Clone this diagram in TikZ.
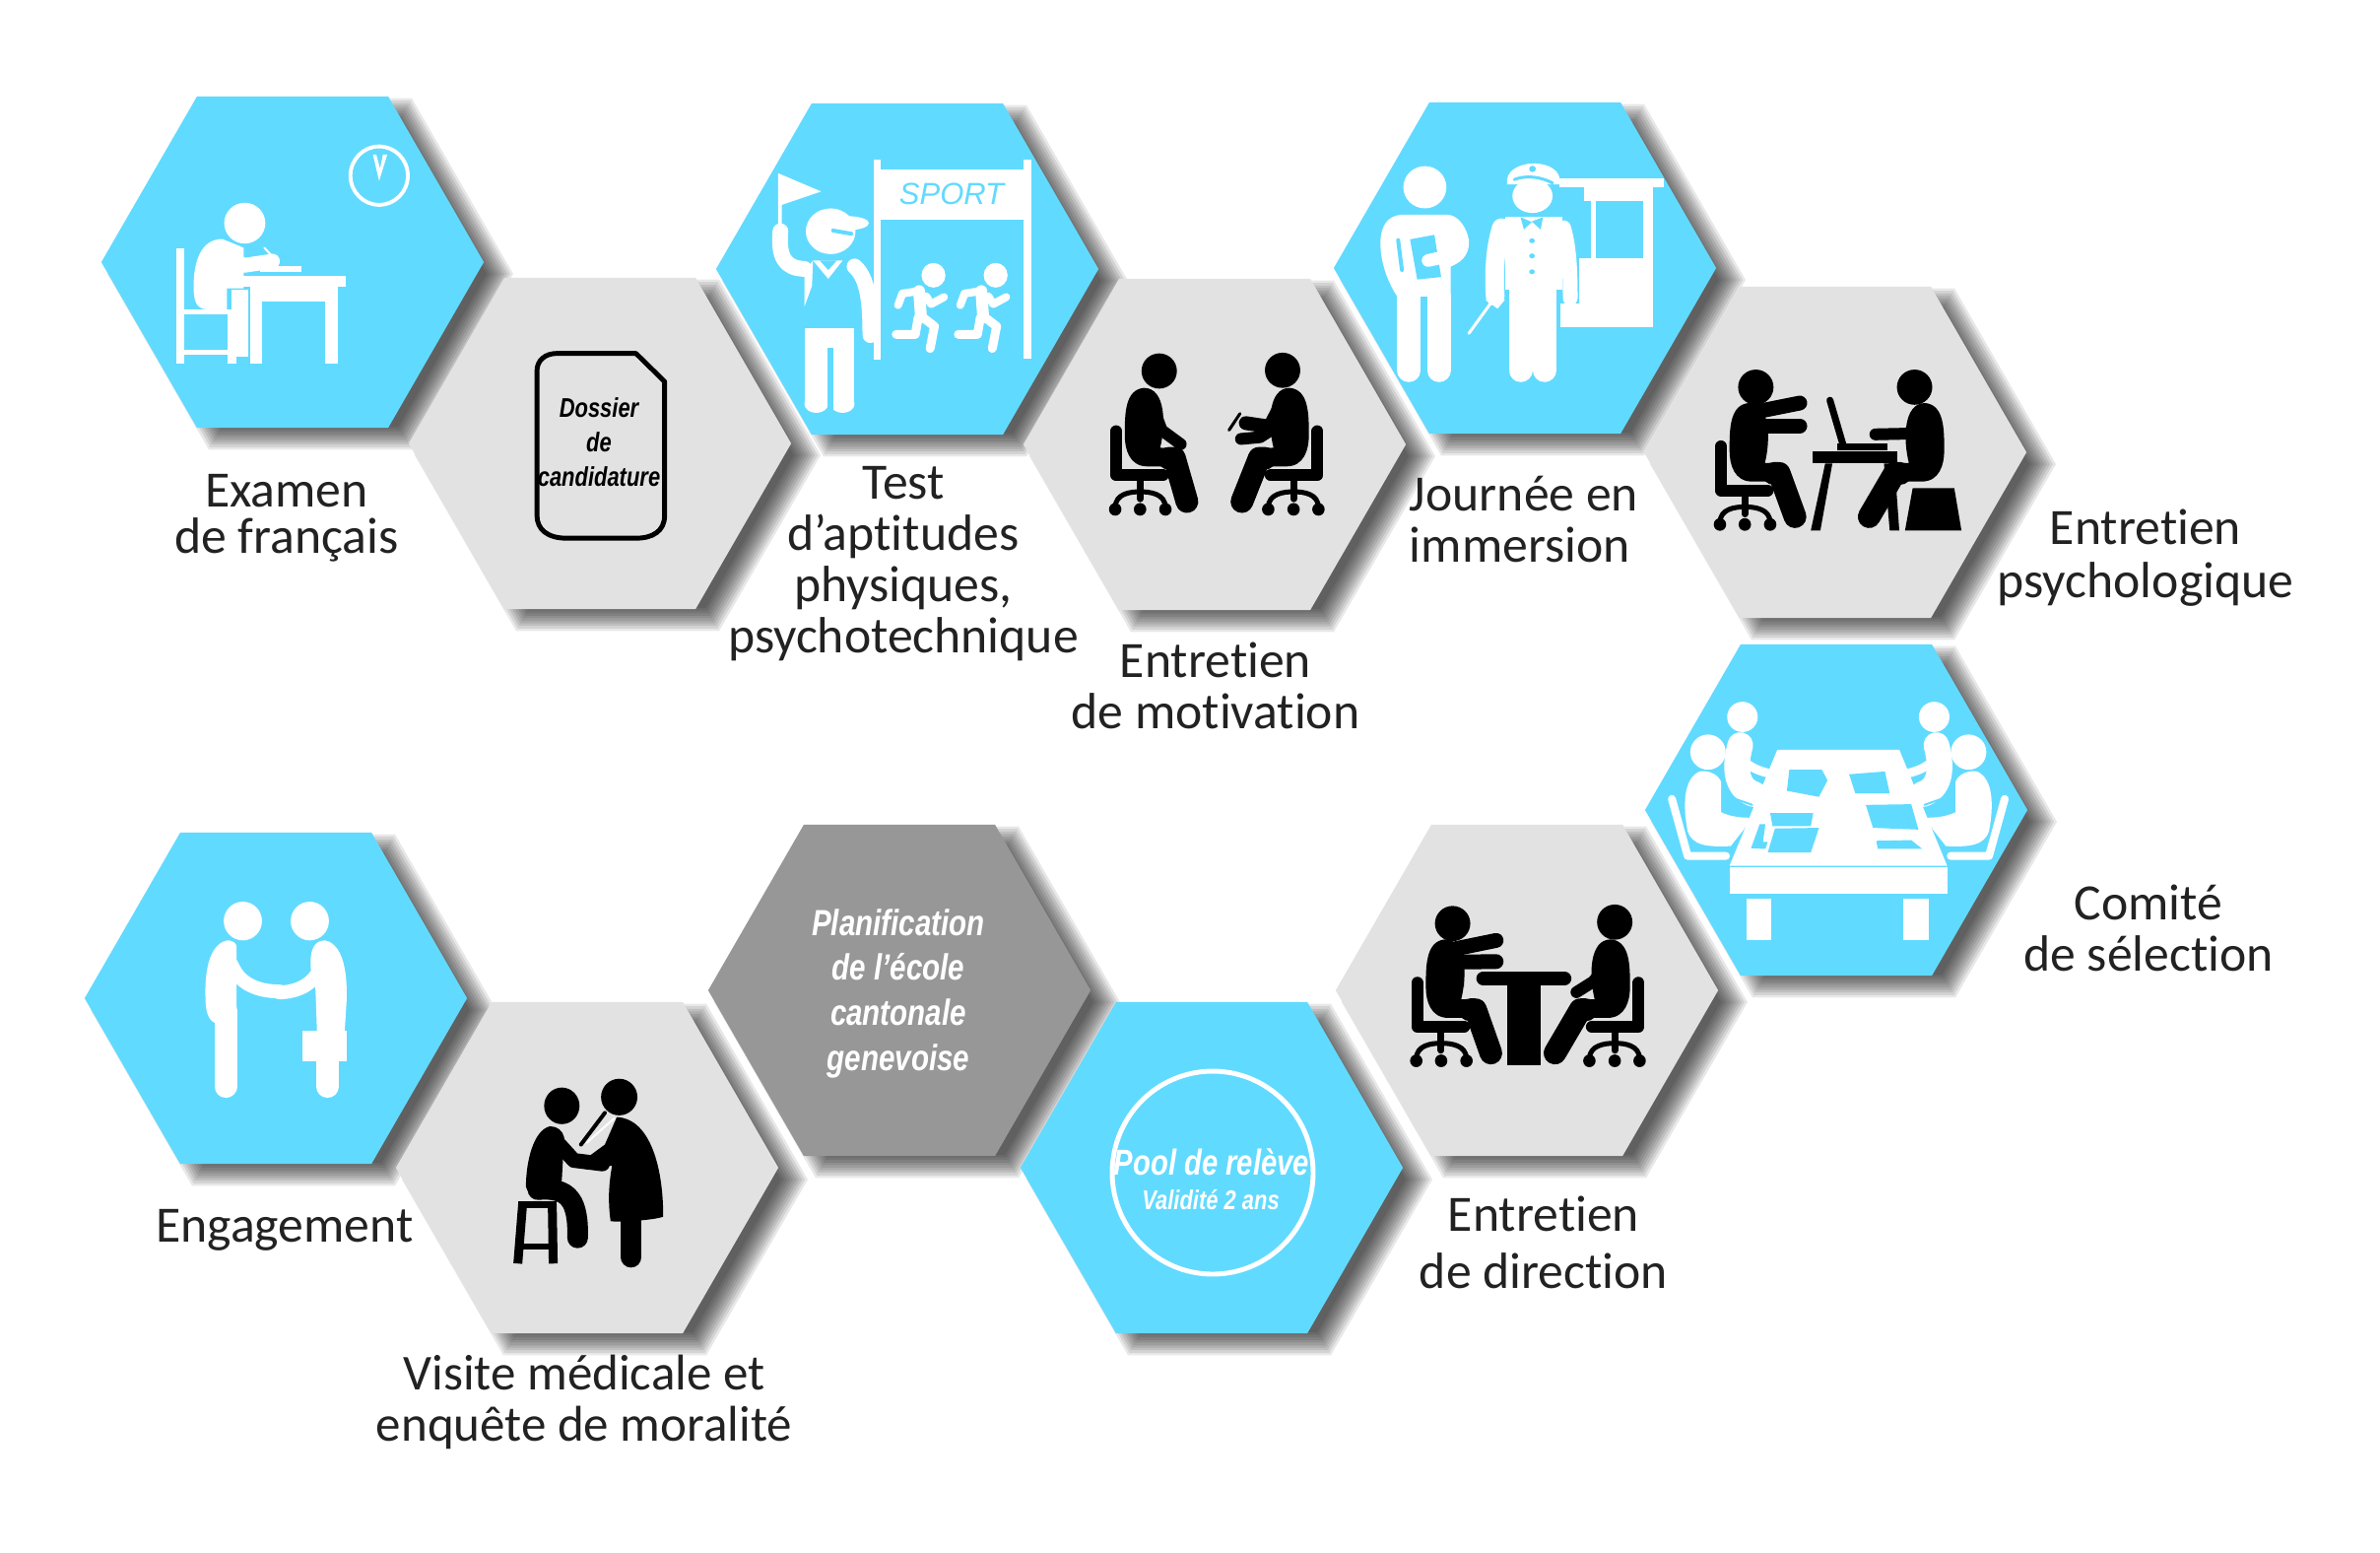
\documentclass[tikz,border=0pt]{standalone}
\usepackage{fontspec}
\setmainfont{Carlito}[Ligatures=NoCommon]
\newfontfamily\hexfont[FakeStretch=0.8]{Liberation Sans}
\newfontfamily\sportfont{Liberation Sans}
\usetikzlibrary{shapes.geometric}
\definecolor{hexblue}{HTML}{61DAFF}
\definecolor{hexlight}{HTML}{E2E2E2}
\definecolor{hexdark}{HTML}{979797}
\definecolor{labelink}{HTML}{222222}
\tikzset{
  hexcell/.style={regular polygon,regular polygon sides=6,minimum size=3.88cm,inner sep=0pt,outer sep=0pt,fill=#1},
  shadelayer/.style={fill=black,opacity=0.09},
  crop/.style={x=0.004847cm,y=-0.003571cm},
  limb/.style={line width=#1*0.2845pt,line cap=round,line join=round},
  steplabel/.style={font=\fontsize{14.7}{14.8}\selectfont,text=labelink,align=center,inner sep=0pt},
  hextext/.style={font=\hexfont\bfseries\itshape\fontsize{#1}{13}\selectfont,align=center,inner sep=0pt}
}
% chair and seated figure, origin at the middle wheel
\newcommand{\officechair}{
  \draw[limb=12] (-50,-222) -- (-50,-97) -- (48,-97);
  \draw[limb=7] (0,-90) -- (0,-30);
  \draw[limb=5] (-52,-5) .. controls (-52,-45) and (-20,-50) .. (0,-50) .. controls (20,-50) and (53,-45) .. (53,-5);
  \foreach \W in {-52,0,53} {\fill (\W,0) ellipse [x radius=13,y radius=18];}
}
\newcommand{\seatedbody}[1]{
  \fill (8,-345) .. controls (-32,-340) and (-32,-270) .. (-32,-210) .. controls (-32,-170) and (-22,-122) .. (15,-122) -- (80,-122) -- (80,-172) -- (42,-175) .. controls (54,-240) and (54,-345) .. (8,-345) -- cycle;
  \draw[limb=23] (60,-145) -- (72,-145) -- (#1,-22);
}
\begin{document}
\begin{tikzpicture}[x=0.01cm,y=-0.01cm]
\useasboundingbox (0,0) rectangle (2416,1575);
\fill[white] (0,0) rectangle (2416,1575);

\foreach \hx/\hy/\hname/\hcol in {297/266/Examen/hexblue,609/450/Dossier/hexlight,921/273/Test/hexblue,1233/451/Motivation/hexlight,1548/272/Immersion/hexblue,1863/459/Psycho/hexlight,
  280/1013/Engagement/hexblue,596/1185/Visite/hexlight,913/1005/Planif/hexdark,1230/1185/Pool/hexblue,1550/1005/Direction/hexlight,1864/822/Comite/hexblue} {
  \foreach \r in {206,203,...,178} {
    \fill[shadelayer] (\hx+18+\r,\hy+12) -- ++(120:\r) -- ++(180:\r) -- ++(240:\r) -- ++(300:\r) -- ++(0:\r) -- cycle;
  }
  \node[hexcell=\hcol] (hex\hname) at (\hx,\hy) {};
}

% Examen de francais
\begin{scope}[shift={(80,80)},crop,color=white]
  \fill (347,410) ellipse [x radius=43,y radius=58];
  \fill (203,482) rectangle (220,810);
  \fill (203,655) rectangle (330,670);
  \fill (203,770) rectangle (330,785);
  \fill (312,660) rectangle (330,810);
  \fill (300,455) .. controls (255,455) and (240,520) .. (240,590) .. controls (240,630) and (245,655) .. (270,655) -- (310,655) -- (310,595) -- (345,595) -- (345,480) -- cycle;
  \fill (320,600) rectangle (355,790);
  \draw[limb=15] (290,490) -- (345,530) -- (405,518);
  \draw[limb=2] (388,480) -- (412,515);
  \fill (378,532) rectangle (465,550);
  \fill (338,560) rectangle (558,592);
  \fill (358,592) rectangle (541,632);
  \fill (358,632) rectangle (384,810);
  \fill (515,632) rectangle (541,810);
  \draw[line width=1.1pt] (628,275) ellipse [x radius=60,y radius=83];
  \fill (615,215) -- (628,290) -- (645,215) -- (636,215) -- (630,255) -- (622,215) -- cycle;
\end{scope}

% Dossier
\begin{scope}[shift={(80,80)},crop]
  \draw[black,line width=1.4pt,line join=round] (1000,780) -- (1165,780) -- (1225,860) -- (1225,1240) .. controls (1225,1285) and (1200,1305) .. (1165,1305) -- (1020,1305) .. controls (980,1305) and (958,1280) .. (958,1240) -- (958,830) .. controls (958,800) and (975,780) .. (1000,780) -- cycle;
\end{scope}
\node[hextext=7.8,black] (txtDossier) at (608,449) {Dossier\\[-3.1pt]de\\[-3.1pt]candidature};

% Test
\begin{scope}[shift={(700,90)},crop,color=white]
  \fill (185,240) -- (275,292) -- (193,330) -- (193,400) -- (185,400) -- cycle;
  \fill (295,405) ellipse [x radius=52,y radius=65];
  \fill (330,382) ellipse [x radius=45,y radius=20];
  \draw[hexblue,limb=4] (300,403) -- (338,412);
  \draw[limb=16] (190,405) .. controls (185,480) and (200,510) .. (240,512);
  \fill (258,488) -- (320,488) -- (290,540) -- cycle;
  \fill[hexblue] (272,488) -- (308,488) -- (290,515) -- cycle;
  \fill (240,520) -- (258,488) -- (256,560) -- (240,620) -- cycle;
  \draw[limb=16] (345,505) .. controls (375,540) and (378,620) .. (378,700);
  \fill (240,680) rectangle (345,895);
  \fill (265,895) ellipse [x radius=25,y radius=26];
  \fill (320,895) ellipse [x radius=25,y radius=26];
  \fill[hexblue] (288,735) rectangle (300,925);
  \fill (386,202) rectangle (400,770);
  \fill (698,202) rectangle (714,766);
  \fill (400,230) rectangle (698,372);
  \foreach \R in {0,130} {
    \fill (510+\R,530) ellipse [x radius=25,y radius=35];
    \draw[limb=12] (480+\R,575) -- (484+\R,650);
    \draw[limb=8] (478+\R,575) -- (445+\R,582) -- (436+\R,615);
    \draw[limb=8] (495+\R,590) -- (505+\R,612) -- (532+\R,592);
    \draw[limb=9] (478+\R,650) -- (472+\R,698) -- (432+\R,698);
    \draw[limb=9] (488+\R,650) -- (512+\R,675) -- (503+\R,738);
  }
\end{scope}
\node[font=\sportfont\itshape\fontsize{8.8}{10}\selectfont,text=hexblue,inner sep=0pt] (txtSport) at (966,197) {SPORT};

% Entretien de motivation
\begin{scope}[shift={(700,90)},crop,color=black]
  \begin{scope}[shift={(942,1195)}]
    \officechair
    \seatedbody{98}
    \fill (40,-393) ellipse [x radius=37,y radius=50];
    \draw[limb=12] (25,-300) -- (45,-225) -- (85,-185);
  \end{scope}
  \begin{scope}[shift={(1263,1195)},xscale=-1]
    \officechair
    \seatedbody{108}
    \fill (23,-395) ellipse [x radius=37,y radius=50];
    \draw[limb=14] (25,-300) -- (50,-235) -- (100,-245);
    \draw[limb=12] (30,-240) -- (70,-205) -- (110,-200);
    \draw[limb=3] (112,-272) -- (135,-225);
  \end{scope}
\end{scope}

% Journee en immersion
\begin{scope}[shift={(1360,90)},crop,color=white]
  \fill (178,280) ellipse [x radius=45,y radius=60];
  \fill (130,358) .. controls (100,360) and (85,390) .. (85,440) .. controls (85,500) and (105,560) .. (120,590) -- (232,590) -- (232,505) .. controls (262,490) and (272,460) .. (270,430) .. controls (265,390) and (245,358) .. (225,358) -- cycle;
  \draw[limb=24] (145,590) -- (145,800);
  \draw[limb=24] (207,590) -- (207,800);
  \fill[hexblue] (147,428) -- (198,415) -- (212,535) -- (162,542) -- cycle;
  \draw[hexblue,limb=4] (122,430) -- (130,515);
  \draw[limb=13] (185,488) -- (245,470);
  \fill (350,272) .. controls (340,195) and (470,190) .. (460,272) -- cycle;
  \fill (403,305) ellipse [x radius=42,y radius=48];
  \draw[hexblue,limb=3] (365,258) .. controls (390,245) and (420,250) .. (445,268);
  \fill[hexblue] (403,228) ellipse [x radius=7,y radius=9];
  \draw[limb=19] (338,395) .. controls (325,450) and (322,520) .. (325,590);
  \draw[limb=15] (468,395) .. controls (480,450) and (482,520) .. (482,595);
  \fill (345,365) rectangle (465,570);
  \draw[limb=24] (378,570) -- (378,800);
  \draw[limb=24] (428,570) -- (428,800);
  \fill[hexblue] (378,365) -- (400,378) -- (425,365) -- (420,400) -- (402,378) -- (385,400) -- cycle;
  \foreach \B in {432,475,520} {\fill[hexblue] (402,\B) ellipse [x radius=6,y radius=7];}
  \fill (305,600) -- (320,580) -- (345,600) -- (330,625) -- cycle;
  \draw[limb=3] (270,695) -- (318,605);
  \fill (460,255) rectangle (678,280);
  \fill (510,280) rectangle (655,320);
  \fill (525,320) rectangle (535,482);
  \fill (635,320) rectangle (655,482);
  \fill (500,482) rectangle (655,678);
  \fill (462,610) rectangle (500,678);
\end{scope}

% Entretien psychologique
\begin{scope}[shift={(1360,90)},crop,color=black]
  \begin{scope}[shift={(847,1238)}]
    \officechair
    \seatedbody{105}
    \fill (23,-390) ellipse [x radius=37,y radius=50];
    \draw[limb=15] (5,-315) -- (115,-345);
    \draw[limb=15] (5,-280) -- (115,-280);
    \fill (35,-280) -- (50,-280) -- (45,-210) -- cycle;
  \end{scope}
  \begin{scope}[shift={(1232,1238)},xscale=-1]
    \seatedbody{125}
    \fill (30,-390) ellipse [x radius=37,y radius=50];
    \draw[limb=12] (5,-300) -- (45,-258) -- (112,-256);
  \end{scope}
  \draw[limb=7] (1025,885) -- (1052,1010);
  \fill (1040,1008) rectangle (1145,1028);
  \fill (988,1030) rectangle (1165,1065);
  \fill (1015,1065) -- (1030,1065) -- (1005,1255) -- (985,1255) -- cycle;
  \fill (1138,1065) -- (1160,1065) -- (1170,1255) -- (1150,1255) -- cycle;
  \fill (1198,1135) -- (1285,1135) -- (1300,1255) -- (1182,1255) -- cycle;
\end{scope}

% Comite de selection
\begin{scope}[shift={(1360,640)},crop,color=white]
  \foreach \S in {1,-1} {
    \begin{scope}[shift={(1042.5,0)},xscale=\S]
      \fill (-200.5,245) ellipse [x radius=32,y radius=43];
      \fill (-272.5,345) ellipse [x radius=37,y radius=50];
      \draw[limb=26] (-205,325) .. controls (-220,400) and (-210,450) .. (-175,465);
      \draw[limb=9] (-212,340) .. controls (-205,370) and (-180,395) .. (-145,405);
      \draw[hexblue,limb=2] (-247,385) .. controls (-242,430) and (-238,460) .. (-232,470) -- (-180,495);
      \fill (-290,400) .. controls (-325,420) and (-325,500) .. (-315,570) .. controls (-305,610) and (-275,615) .. (-225,612) -- (-195,560) -- (-245,520) -- (-245,430) .. controls (-250,410) and (-270,395) .. (-290,400) -- cycle;
      \draw[limb=10] (-280,490) .. controls (-265,530) and (-225,545) .. (-190,545);
      \draw[limb=8] (-348,478) -- (-315,640) -- (-235,640);
    \end{scope}
  }
  \fill (915,338) -- (1170,338) -- (1270,668) -- (815,668) -- cycle;
  \fill (815,672) rectangle (1270,748);
  \fill (850,762) rectangle (902,880);
  \fill (1178,762) rectangle (1232,880);
  \begin{scope}[color=hexblue]
    \fill (940,395) -- (1008,395) -- (1020,425) -- (1002,472) -- (935,455) -- cycle;
    \fill (1065,408) -- (1140,400) -- (1150,462) -- (1078,462) -- cycle;
    \fill (900,518) -- (990,518) -- (985,555) -- (905,555) -- cycle;
    \fill (910,562) -- (1002,560) -- (985,630) -- (895,630) -- cycle;
    \fill (878,550) -- (890,550) -- (885,600) -- (895,600) -- (890,620) -- (860,618) -- cycle;
    \fill (1100,495) -- (1195,493) -- (1210,565) -- (1115,560) -- cycle;
    \fill (1122,597) -- (1195,595) -- (1218,620) -- (1125,620) -- cycle;
  \end{scope}
\end{scope}

% Entretien de direction
\begin{scope}[shift={(1360,640)},crop,color=black]
  \begin{scope}[shift={(212,1222)}]
    \officechair
    \seatedbody{104}
    \fill (24,-390) ellipse [x radius=37,y radius=50];
    \draw[limb=15] (0,-310) -- (115,-342);
    \draw[limb=15] (0,-280) -- (115,-282);
    \fill (32,-280) -- (48,-280) -- (48,-208) -- cycle;
  \end{scope}
  \begin{scope}[shift={(575,1222)},xscale=-1]
    \officechair
    \seatedbody{125}
    \fill (0,-394) ellipse [x radius=37,y radius=50];
    \draw[limb=12] (0,-300) -- (45,-225) -- (80,-195);
  \end{scope}
  \draw[limb=14] (300,988) -- (470,988);
  \fill (350,1000) rectangle (420,1235);
\end{scope}

% Engagement
\begin{scope}[shift={(80,840)},crop,color=white]
  \fill (343,265) ellipse [x radius=40,y radius=55];
  \fill (483,265) ellipse [x radius=40,y radius=55];
  \fill (310,320) .. controls (275,330) and (262,400) .. (265,490) .. controls (265,530) and (275,550) .. (285,555) -- (330,555) -- (330,340) .. controls (330,330) and (325,320) .. (310,320) -- cycle;
  \draw[limb=23] (307,520) -- (307,735);
  \draw[limb=14] (320,390) .. controls (335,440) and (370,465) .. (420,465);
  \fill (515,320) .. controls (550,330) and (562,400) .. (560,490) -- (556,578) -- (498,578) -- (495,460) -- (485,400) .. controls (482,340) and (495,320) .. (515,320) -- cycle;
  \draw[limb=14] (505,400) .. controls (490,440) and (465,465) .. (420,468);
  \fill (468,578) rectangle (560,662);
  \draw[limb=23] (520,660) -- (520,735);
\end{scope}

% Visite medicale
\begin{scope}[shift={(80,840)},crop,color=black]
  \fill (1010,790) ellipse [x radius=37,y radius=52];
  \fill (1130,765) ellipse [x radius=38,y radius=52];
  \fill (985,848) .. controls (950,860) and (935,950) .. (935,1020) .. controls (940,1045) and (960,1055) .. (1000,1050) -- (1010,1000) -- (1015,880) .. controls (1012,860) and (1000,848) .. (985,848) -- cycle;
  \draw[limb=21] (960,1028) .. controls (1025,1020) and (1045,1060) .. (1043,1165);
  \draw[limb=15] (995,885) -- (1035,945) -- (1095,955);
  \fill (918,1060) rectangle (1000,1080);
  \draw[limb=9,line cap=butt] (928,1070) -- (918,1238);
  \draw[limb=9,line cap=butt] (990,1070) -- (992,1238);
  \fill (925,1180) rectangle (985,1198);
  \fill (1125,822) .. controls (1190,825) and (1222,950) .. (1222,1105) .. controls (1200,1115) and (1140,1120) .. (1112,1118) .. controls (1105,1050) and (1110,1000) .. (1115,960) -- (1060,970) -- (1060,940) -- (1100,900) -- cycle;
  \draw[limb=21] (1155,1100) -- (1155,1220);
  \draw[white,limb=2] (1120,825) -- (1062,895);
  \draw[limb=4] (1100,810) -- (1050,900);
\end{scope}

% Pool de releve
\draw[white,line width=1.4pt] (1231,1190) ellipse [x radius=102,y radius=103];
\node[hextext=10.4,white] (txtPool) at (1230,1179) {Pool de relève};
\node[hextext=7.8,white] (txtValid) at (1229,1218) {Validité 2 ans};

% Planification
\node[hextext=10.5,white] (txtPlanif) at (912,1008) {Planification\\de l’école\\cantonale\\genevoise};

% labels
\node[steplabel] (lblExamen) at (291,526) {Examen\\[-1.3pt]de français};
\node[steplabel] (lblTest) at (917,572) {Test\\d’aptitudes\\physiques,\\psychotechnique};
\node[steplabel] (lblMotivation) at (1234,696) {Entretien\\de motivation};
\node[steplabel,align=left] (lblImmersion) at (1547,527) {Journée en\\immersion};
\node[steplabel] (lblPsycho) at (2178,566) {Entretien\\[0.6pt]psychologique};
\node[steplabel] (lblComite) at (2181,942) {Comité\\de sélection};
\node[steplabel] (lblDirection) at (1567,1261) {Entretien\\[1.7pt]de direction};
\node[steplabel,font=\fontsize{14.5}{14.8}\selectfont] (lblVisite) at (593,1423) {Visite médicale et\\enquête de moralité};
\node[steplabel] (lblEngagement) at (289,1248) {Engagement};
\end{tikzpicture}
\end{document}
